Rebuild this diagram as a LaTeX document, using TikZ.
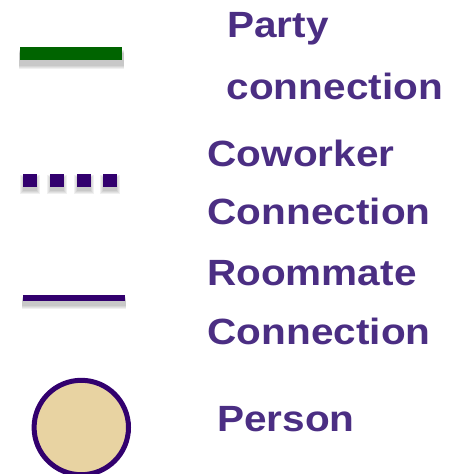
\documentclass[tikz,border=0pt]{standalone}
\usepackage{fontspec}
\setmainfont[FakeStretch=1.11]{Liberation Sans}
\definecolor{txtpurple}{HTML}{4B2E83}
\definecolor{linepurple}{HTML}{32006E}
\definecolor{partygreen}{HTML}{006400}
\definecolor{persongold}{HTML}{E8D3A2}
\begin{document}
\begin{tikzpicture}[x=1pt,y=-1pt,
  lbl/.style={anchor=base west,inner sep=0pt,text=txtpurple,font=\fontsize{36.5}{40}\selectfont\bfseries},
  shadowline/.style={draw=black,opacity=0.06,line cap=butt}]
\useasboundingbox (0,0) rectangle (458,474);
% party connection
\foreach \w in {19,17,15,13} {\draw[shadowline,line width=\w] (19,59) -- (124,59);}
\draw[partygreen,line width=13,line cap=butt] (20,53.7) coordinate (pa) -- (122,53.7) coordinate (pb);
% coworker connection
\foreach \i in {0,1,2,3} {
  \pgfmathsetmacro{\xx}{23.3+26.6*\i}
  \foreach \w in {6,4,2,0} {\fill[black,opacity=0.06] (\xx-\w/2,178-\w/2) rectangle (\xx+14+\w/2,191+\w/2);}
  \fill[linepurple] (\xx,174) rectangle (\xx+14,187);
}
% roommate connection
\foreach \w in {12,10,8,6} {\draw[shadowline,line width=\w] (22,303) -- (126,303);}
\draw[linepurple,line width=6,line cap=butt] (23,297.8) coordinate (ra) -- (125,297.8) coordinate (rb);
% person
\fill[persongold,draw=linepurple,line width=5] (81.3,427.5) circle (47.2);
% labels
\node[lbl] (party) at (227,37.3) {Party};
\node[lbl] (partyc) at (226.5,99.3) {connection};
\node[lbl] (cow) at (207.5,166) {Coworker};
\node[lbl] (cowc) at (207.5,224.3) {Connection};
\node[lbl] (room) at (207,285) {Roommate};
\node[lbl] (roomc) at (207.5,344.3) {Connection};
\node[lbl] (person) at (217,431.7) {Person};
\end{tikzpicture}
\end{document}
